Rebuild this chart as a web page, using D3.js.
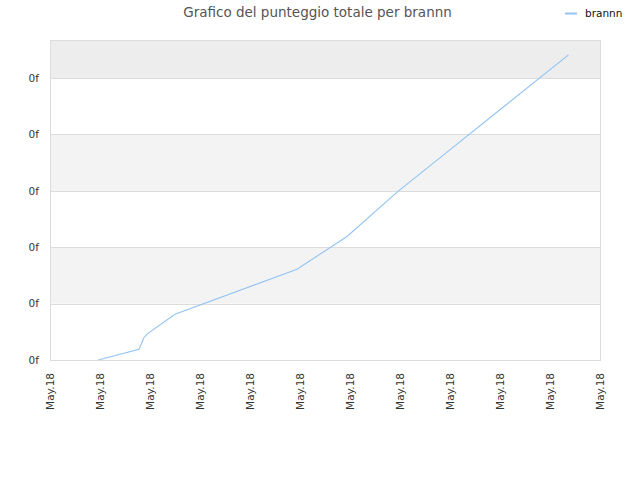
<!DOCTYPE html>
<html><head><meta charset="utf-8">
<script src="https://cdn.jsdelivr.net/npm/d3@7"></script>
<style>body{margin:0;background:#fff;} svg{display:block;font-family:"DejaVu Sans",sans-serif;}</style>
</head><body>
<script>
const title = "Grafico del punteggio totale per brannn";
const seriesName = "brannn";
// x in days from axis start, y = cumulative score
const xDays = [0.966, 1.78, 1.88, 1.94, 2.5, 4.94, 5.94, 6.96, 7.96, 8.96, 10.37];
const scores = [0.0, 0.19, 0.40, 0.46, 0.81, 1.61, 2.19, 2.99, 3.70, 4.41, 5.41];
const xTicks = [0,1,2,3,4,5,6,7,8,9,10,11];
const xTickLabels = ["May.18","May.18","May.18","May.18","May.18","May.18","May.18","May.18","May.18","May.18","May.18","May.18"];
const yTicks = [0,1,2,3,4,5];
const yTickLabels = ["0f","0f","0f","0f","0f","0f"];

const W=640,H=480, L=50,R=600,T=40,B=360;
const svg=d3.select("body").append("svg").attr("width",W).attr("height",H);
const x=d3.scaleLinear().domain([0,11]).range([L,R]);
const y=d3.scaleLinear().domain([0,5.674]).range([B,T]);

// bands
const bandEdges=[...yTicks, 5.674];
for(let i=0;i<bandEdges.length-1;i++){
  const fill = i===bandEdges.length-2 ? "#ededed" : (i%2===1 ? "#f3f3f3" : "#ffffff");
  svg.append("rect").attr("x",L).attr("y",y(bandEdges[i+1])).attr("width",R-L).attr("height",y(bandEdges[i])-y(bandEdges[i+1])).attr("fill",fill);
}
// grid lines
svg.append("g").selectAll("line").data(yTicks).join("line")
  .attr("x1",L).attr("x2",R).attr("y1",d=>Math.round(y(d))+0.5).attr("y2",d=>Math.round(y(d))+0.5)
  .attr("stroke","#dcdcdc");
// frame
svg.append("rect").attr("x",L+0.5).attr("y",T+0.5).attr("width",R-L).attr("height",B-T).attr("fill","none").attr("stroke","#dcdcdc");

// y axis labels
const yAxis=d3.axisLeft(y).tickValues(yTicks).tickFormat((d,i)=>yTickLabels[i]).tickSize(0).tickPadding(11);
const gy=svg.append("g").attr("transform",`translate(${L},0)`).call(yAxis);
gy.select(".domain").remove();
gy.selectAll("text").attr("font-size",10.5).attr("fill","#333").attr("font-family","DejaVu Sans");

// x axis labels
const xAxis=d3.axisBottom(x).tickValues(xTicks).tickFormat((d,i)=>xTickLabels[i]).tickSize(0);
const gx=svg.append("g").attr("transform",`translate(0,${B})`).call(xAxis);
gx.select(".domain").remove();
gx.selectAll("text").attr("font-size",10.5).attr("fill","#333").attr("font-family","DejaVu Sans")
  .attr("text-anchor","end").attr("dy","0.35em").attr("dx",0)
  .attr("transform","translate(0,13) rotate(-90)").attr("x",0).attr("y",0);

// line
const line=d3.line().x((d,i)=>x(xDays[i])).y(d=>y(d));
svg.append("path").datum(scores).attr("d",line).attr("fill","none").attr("stroke","#92c3f3").attr("stroke-width",1.1);

// title
svg.append("text").attr("x",317.5).attr("y",17).attr("text-anchor","middle").attr("font-size",13.5).attr("fill","#555").text(title);
// legend
svg.append("line").attr("x1",565).attr("x2",577).attr("y1",13.5).attr("y2",13.5).attr("stroke","#92c3f3").attr("stroke-width",2);
svg.append("text").attr("x",585).attr("y",17).attr("font-size",10.5).attr("fill","#111").text(seriesName);
</script>
</body></html>
